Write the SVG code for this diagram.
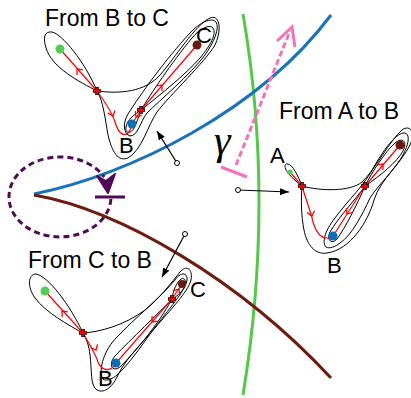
<svg xmlns="http://www.w3.org/2000/svg" xmlns:xlink="http://www.w3.org/1999/xlink" width="411" height="398" viewBox="0 0 411 398">
<style>
.t{font-family:"Liberation Sans",Arial,sans-serif;font-size:23px;fill:#000}
.lb{font-family:"Liberation Sans",Arial,sans-serif;font-size:22px;fill:#000}
.ct{fill:none;stroke:#000;stroke-width:1}
.rd{fill:none;stroke:#f00;stroke-width:1.2}
.ch{fill:none;stroke:#f00;stroke-width:1.3}
.cx1{stroke:#000;stroke-width:3.6;fill:none}
.cx2{stroke:#f00;stroke-width:1.8;fill:none}
.gd{fill:#55cc55}.bd{fill:#0a6fb8}.rdt{fill:#6a1a12}
.cn{fill:none;stroke:#000;stroke-width:1.2}
.cc{fill:#fff;stroke:#000;stroke-width:1}
</style>
<defs>
<path id="chev" d="M-4.5,-3.8 L0,0 L-4.5,3.8" class="ch"/>
<g id="cross"><path class="cx1" d="M-4,0 H4 M0,-4 V4"/><path class="cx2" d="M-3.5,0 H3.5 M0,-3.5 V3.5"/></g>
<marker id="ah" viewBox="0 0 9 7" refX="9" refY="3.5" markerWidth="9" markerHeight="7" markerUnits="userSpaceOnUse" orient="auto"><path d="M0,0 L9,3.5 L0,7 z" fill="#000"/></marker>
</defs>

<g id="curves">
<path id="green-curve" d="M243,14 Q275,200 243,395" fill="none" stroke="#55c84a" stroke-width="3"/>
<path id="blue-curve" d="M34,194 C130,175 260,110 331,15" fill="none" stroke="#1a73b8" stroke-width="3"/>
<path id="brown-curve" d="M34,195 C120,210 240,280 331,378" fill="none" stroke="#6b1d0f" stroke-width="3"/>
</g>

<g id="purple-loop">
<path d="M110.9,199 A51,40 0 1 1 104.2,177" fill="none" stroke="#4f0a55" stroke-width="3" stroke-dasharray="6 4"/>
<path d="M97,176 L108,193 L115,174 L106,181 Z" fill="#4f0a55" stroke="#4f0a55" stroke-width="2" stroke-linejoin="round"/>
<line x1="95" y1="197" x2="125" y2="197" stroke="#4f0a55" stroke-width="3"/>
</g>

<g id="gamma">
<line x1="221" y1="167" x2="247" y2="177" stroke="#f472b6" stroke-width="3"/>
<line x1="236" y1="165" x2="290" y2="31" stroke="#f472b6" stroke-width="3" stroke-dasharray="6 3"/>
<path d="M277,41 L292,27 L295,47" fill="none" stroke="#f472b6" stroke-width="3"/>
<text x="214" y="154" font-family="Liberation Serif,serif" font-style="italic" font-size="42">γ</text>
</g>

<g id="connectors">
<line x1="177" y1="163" x2="157" y2="131" class="cn" marker-end="url(#ah)"/>
<circle cx="177" cy="163" r="2.5" class="cc"/>
<line x1="238" y1="190" x2="289" y2="192" class="cn" marker-end="url(#ah)"/>
<circle cx="238" cy="190" r="2.5" class="cc"/>
<line x1="185" y1="234" x2="162" y2="277" class="cn" marker-end="url(#ah)"/>
<circle cx="185" cy="234" r="2.5" class="cc"/>
</g>

<g id="inset-b-to-c">
<text class="t" x="45" y="26">From B to C</text>
<path class="ct" d="M97,91 C80,82 52,68 46,48 C43,38 44,31 52,32 C62,34 85,62 97,91 Z"/>
<path class="ct" d="M97,91 C120,94 145,92 160,75 C175,58 195,25 210,18 C220,14 222,30 215,45 C205,62 170,95 157,112 C148,125 142,150 128,158 C118,162 112,152 108,135 C105,118 103,100 97,91 Z"/>
<path class="ct" d="M130,136 C124,134 122,124 128,114 C140,95 165,60 190,33 C200,22 212,17 216,22 C220,28 214,42 205,55 C190,75 160,100 147,113 C140,122 138,136 130,136 Z"/>
<path class="ct" d="M141,110 C150,95 172,62 192,38 C200,28 210,24 213,28 C217,34 210,46 200,58 C185,75 160,95 141,110 Z"/>
<path class="ct" d="M141,110 C135,114 127,120 126,127 C125,134 131,134 134,128 C137,122 139,116 141,110 Z"/>
<path class="rd" d="M97,91 L60,49"/>
<path class="rd" d="M97,91 C105,102 112,112 115,122 C118,132 122,136 127,134 C130,132 131,128 132,124"/>
<path class="rd" d="M141,110 L132,124"/>
<path class="rd" d="M141,110 L197,45"/>
<use xlink:href="#chev" transform="translate(77,69) rotate(-131)"/>
<use xlink:href="#chev" transform="translate(113,116) rotate(70)"/>
<use xlink:href="#chev" transform="translate(136,117) rotate(123)"/>
<use xlink:href="#chev" transform="translate(162,85) rotate(-49)"/>
<circle class="gd" cx="60" cy="49" r="4.5"/>
<circle class="bd" cx="132" cy="124" r="4.5"/>
<circle class="rdt" cx="197" cy="45" r="4.5"/>
<use xlink:href="#cross" x="97" y="91"/>
<use xlink:href="#cross" x="141" y="110"/>
<text class="lb" x="196" y="43">C</text>
<text class="lb" x="119" y="153">B</text>
</g>

<g id="inset-a-to-b">
<text class="t" x="279" y="119">From A to B</text>
<path class="ct" d="M302,186 C298,176 293,165 288,164 C284,163 284,168 288,173 C292,178 298,183 302,186 Z"/>
<path class="ct" d="M302,186 C320,191 350,192 362,182 C375,170 390,140 402,130 C410,124 416,132 410,145 C402,162 380,180 374,200 C368,222 350,250 327,253 C315,255 307,245 304,230 C301,215 301,198 302,186 Z"/>
<path class="ct" d="M326,247 C322,243 324,232 335,218 C348,200 365,185 375,165 C385,148 395,135 403,133 C410,132 410,142 403,155 C395,170 378,185 370,198 C362,215 352,235 340,243 C335,247 329,249 326,247 Z"/>
<path class="ct" d="M365,186 C372,172 385,152 395,143 C402,137 408,141 403,151 C397,162 380,176 365,186 Z"/>
<path class="ct" d="M365,186 C355,200 338,218 330,232 C326,240 332,245 337,239 C345,228 357,205 365,186 Z"/>
<path class="rd" d="M302,186 L290,172"/>
<path class="rd" d="M302,186 C306,200 311,212 313,222 C316,232 320,238 327,238 C330,238 332,237 333,236"/>
<path class="rd" d="M365,186 L333,236"/>
<path class="rd" d="M365,186 L400,145"/>
<use xlink:href="#chev" transform="translate(312,216) rotate(75)"/>
<use xlink:href="#chev" transform="translate(347,214) rotate(123)"/>
<use xlink:href="#chev" transform="translate(383,164) rotate(-49)"/>
<circle class="gd" cx="290" cy="172" r="2.6"/>
<circle class="bd" cx="333" cy="236" r="4.5"/>
<circle class="rdt" cx="400" cy="145" r="4.5"/>
<use xlink:href="#cross" x="302" y="186"/>
<use xlink:href="#cross" x="365" y="186"/>
<text class="lb" x="270" y="163">A</text>
<text class="lb" x="327" y="273">B</text>
</g>

<g id="inset-c-to-b">
<text class="t" x="28" y="268">From C to B</text>
<path class="ct" d="M83,333 C70,326 45,312 35,298 C27,287 28,274 36,274 C48,276 70,305 83,333 Z"/>
<path class="ct" d="M83,333 C100,332 125,325 145,310 C160,298 172,282 180,272 C186,265 193,268 191,280 C188,292 170,310 155,328 C140,345 125,360 118,375 C113,386 105,394 97,390 C90,386 92,370 90,355 C89,345 86,338 83,333 Z"/>
<path class="ct" d="M102,378 C99,368 104,350 117,337 C135,318 160,298 175,280 C180,272 188,272 187,280 C186,290 168,310 153,330 C140,348 128,365 118,374 C112,380 104,382 102,378 Z"/>
<path class="ct" d="M172,299 C173,290 177,282 181,279 C185,277 187,282 184,288 C181,293 176,297 172,299 Z"/>
<path class="ct" d="M172,299 C160,312 130,340 115,356 C108,364 112,373 120,367 C135,352 158,325 172,299 Z"/>
<path class="rd" d="M83,333 L45,291"/>
<path class="rd" d="M83,333 C90,345 96,355 98,362 C101,370 108,371 112,368 C114,366 115,365 116,363"/>
<path class="rd" d="M172,299 L116,363"/>
<path class="rd" d="M172,299 L182,284"/>
<use xlink:href="#chev" transform="translate(62,311) rotate(-132)"/>
<use xlink:href="#chev" transform="translate(96,350) rotate(65)"/>
<use xlink:href="#chev" transform="translate(152,322) rotate(131)"/>
<use xlink:href="#chev" transform="translate(179,289) rotate(-56)"/>
<circle class="gd" cx="45" cy="291" r="4.5"/>
<circle class="bd" cx="116" cy="363" r="4.5"/>
<circle class="rdt" cx="182" cy="284" r="4"/>
<use xlink:href="#cross" x="83" y="333"/>
<use xlink:href="#cross" x="172" y="299"/>
<text class="lb" x="190" y="297">C</text>
<text class="lb" x="98" y="386">B</text>
</g>
</svg>
